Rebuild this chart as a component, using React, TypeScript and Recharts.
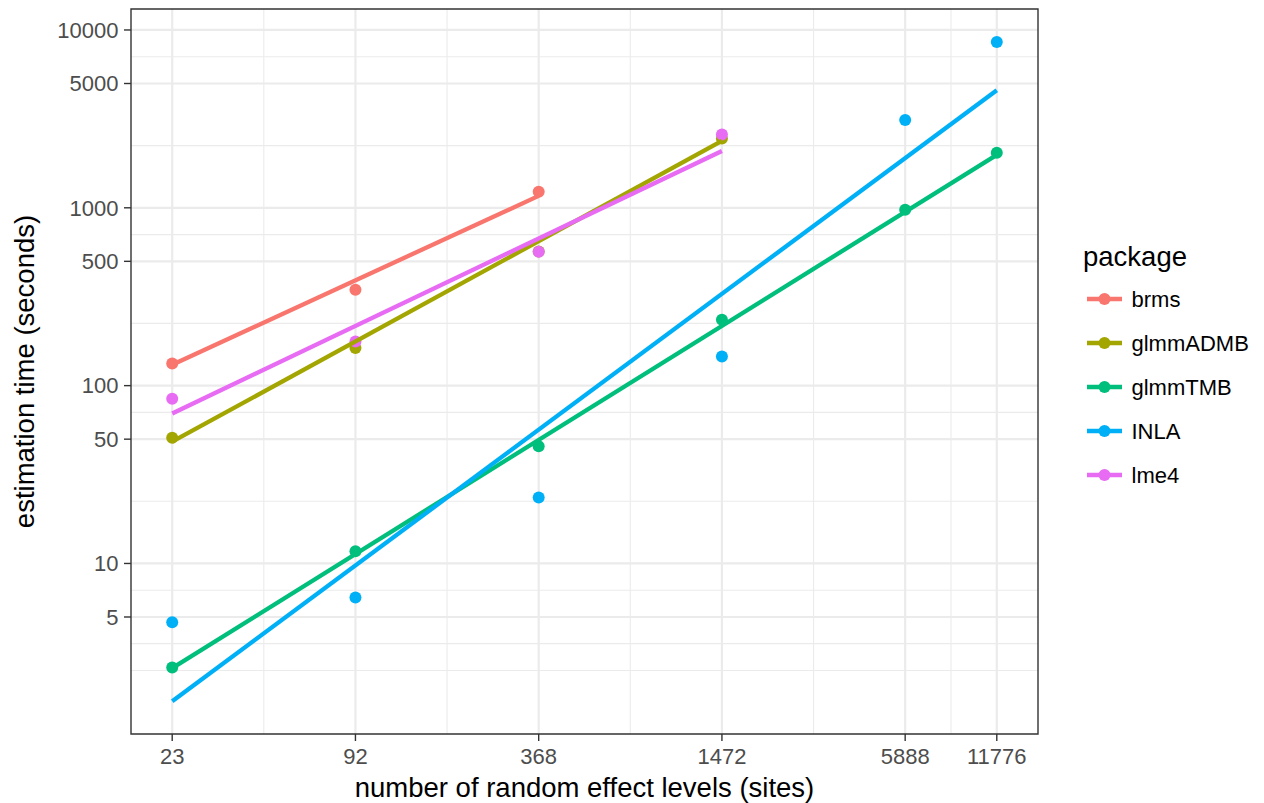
import {
  ScatterChart,
  Scatter,
  XAxis,
  YAxis,
  ReferenceLine,
  ReferenceArea,
  Label,
} from "recharts";

// number of random effect levels (sites)
const SITES = [23, 92, 368, 1472, 5888, 11776];

// estimation time (seconds), per package, at SITES in order
const BRMS = [133, 346, 1230];
const GLMMADMB = [51, 163, 568, 2450];
const GLMMTMB = [2.6, 11.7, 45.6, 235, 975, 2037];
const INLA = [4.67, 6.44, 23.5, 146, 3120, 8570];
const LME4 = [84.5, 177, 566, 2580];

// fitted log-log lines: value at first and last site of each package
const FIT_START = [131, 48.4, 2.58, 1.68, 69.7];
const FIT_END = [1167, 2376, 1986, 4585, 2088];

const PACKAGES = ["brms", "glmmADMB", "glmmTMB", "INLA", "lme4"];
const COLORS = ["#F8766D", "#A3A500", "#00BF7D", "#00B0F6", "#E76BF3"];
const TIMES = [BRMS, GLMMADMB, GLMMTMB, INLA, LME4];

const X_TICKS = SITES;
const X_MINOR = [46, 184, 736, 2944, 8327];
const Y_TICKS = [5, 10, 50, 100, 500, 1000, 5000, 10000];
const Y_MINOR = [2.5, 3.54, 7.07, 22.4, 70.7, 224, 707, 2236, 7071];

const X_DOMAIN = [16.84, 16084];
const Y_DOMAIN = [1.099, 13120];

const FONT = '"Liberation Sans", Arial, Helvetica, sans-serif';
const GRID = "#EBEBEB";
const DARK = "#333333";

const pointsFor = (i: number) =>
  TIMES[i].map((t, j) => ({ x: SITES[j], y: t }));

const fitFor = (i: number) => [
  { x: SITES[0], y: FIT_START[i] },
  { x: SITES[TIMES[i].length - 1], y: FIT_END[i] },
];

const dot = (color: string) => (props: any) =>
  <circle cx={props.cx} cy={props.cy} r={6} fill={color} />;

const noDot = () => <g />;

function PackageLegend() {
  return (
    <svg
      width={1264}
      height={803}
      style={{ position: "absolute", left: 0, top: 0, pointerEvents: "none" }}
    >
      <text x={1083} y={266} fontSize={27.5} fontFamily={FONT} fill="#000">
        package
      </text>
      {PACKAGES.map((p, i) => {
        const y = 299 + i * 44;
        return (
          <g key={p}>
            <line x1={1087} x2={1122} y1={y} y2={y} stroke={COLORS[i]} strokeWidth={4.3} />
            <circle cx={1104.5} cy={y} r={6} fill={COLORS[i]} />
            <text x={1131.5} y={y + 7.8} fontSize={22} fontFamily={FONT} fill="#000">
              {p}
            </text>
          </g>
        );
      })}
    </svg>
  );
}

export default function App() {
  return (
    <div style={{ position: "absolute", left: 0, top: 0, width: 1264, height: 803, background: "#fff" }}>
      <ScatterChart
        width={1264}
        height={803}
        margin={{ top: 9, right: 226, bottom: 0, left: 0 }}
        style={{ fontFamily: FONT }}
      >
        <XAxis
          type="number"
          dataKey="x"
          scale="log"
          domain={X_DOMAIN}
          allowDataOverflow
          ticks={X_TICKS}
          interval={0}
          height={69}
          axisLine={false}
          tickSize={7}
          tickMargin={7.5}
          tickLine={{ stroke: DARK, strokeWidth: 1.4 }}
          tick={{ fill: "#4D4D4D", fontSize: 22, fontFamily: FONT }}
        >
          <Label
            content={({ viewBox }: any) => (
              <text
                x={viewBox.x + viewBox.width / 2}
                y={796.5}
                textAnchor="middle"
                fontSize={27.5}
                fontFamily={FONT}
                fill="#000"
              >
                number of random effect levels (sites)
              </text>
            )}
          />
        </XAxis>
        <YAxis
          type="number"
          dataKey="y"
          scale="log"
          domain={Y_DOMAIN}
          allowDataOverflow
          ticks={Y_TICKS}
          interval={0}
          width={131}
          axisLine={false}
          tickSize={7}
          tickMargin={5.5}
          tickLine={{ stroke: DARK, strokeWidth: 1.4 }}
          tick={{ fill: "#4D4D4D", fontSize: 22, fontFamily: FONT }}
        >
          <Label
            content={({ viewBox }: any) => {
              const cy = viewBox.y + viewBox.height / 2;
              return (
                <text
                  x={33.5}
                  y={cy}
                  transform={`rotate(-90, 33.5, ${cy})`}
                  textAnchor="middle"
                  fontSize={27.5}
                  fontFamily={FONT}
                  fill="#000"
                >
                  estimation time (seconds)
                </text>
              );
            }}
          />
        </YAxis>

        {Y_MINOR.map((v) => (
          <ReferenceLine key={"ym" + v} y={v} stroke={GRID} strokeWidth={1.1} zIndex={-60} />
        ))}
        {X_MINOR.map((v) => (
          <ReferenceLine key={"xm" + v} x={v} stroke={GRID} strokeWidth={1.1} zIndex={-60} />
        ))}
        {Y_TICKS.map((v) => (
          <ReferenceLine key={"yM" + v} y={v} stroke={GRID} strokeWidth={2.2} zIndex={-50} />
        ))}
        {X_TICKS.map((v) => (
          <ReferenceLine key={"xM" + v} x={v} stroke={GRID} strokeWidth={2.2} zIndex={-50} />
        ))}

        {PACKAGES.map((p, i) => (
          <Scatter
            key={"pt" + p}
            name={p}
            data={pointsFor(i)}
            fill={COLORS[i]}
            shape={dot(COLORS[i])}
            isAnimationActive={false}
          />
        ))}
        {PACKAGES.map((p, i) => (
          <Scatter
            key={"fit" + p}
            name={p + " fit"}
            data={fitFor(i)}
            fill={COLORS[i]}
            shape={noDot}
            line={{ stroke: COLORS[i], strokeWidth: 4.3 }}
            isAnimationActive={false}
          />
        ))}

        <ReferenceArea
          x1={X_DOMAIN[0]}
          x2={X_DOMAIN[1]}
          y1={Y_DOMAIN[0]}
          y2={Y_DOMAIN[1]}
          fill="none"
          fillOpacity={0}
          stroke={DARK}
          strokeWidth={1.4}
          zIndex={900}
        />
      </ScatterChart>
      <PackageLegend />
    </div>
  );
}
